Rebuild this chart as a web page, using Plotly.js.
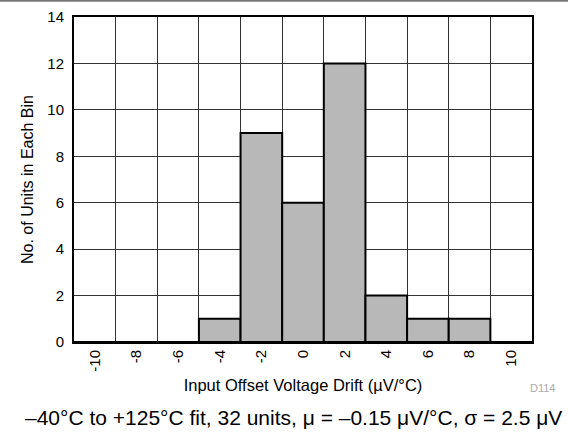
<!DOCTYPE html>
<html>
<head>
<meta charset="utf-8">
<script src="https://cdn.plot.ly/plotly-3.0.1.min.js"></script>
<style>html,body{margin:0;padding:0;background:#fff;}#chart{width:568px;height:432px;}</style>
</head>
<body>
<div id="chart"></div>
<script>
const binLabels = ["-10","-8","-6","-4","-2","0","2","4","6","8","10"];
const unitCounts = [0,0,0,1,9,6,12,2,1,1,0];
const xTitle = "Input Offset Voltage Drift (\u00b5V/\u00b0C)";
const yTitle = "No. of Units in Each Bin";
const subtitle = "\u201340\u00b0C to +125\u00b0C fit, 32 units, \u03bc = \u20130.15 \u03bcV/\u00b0C, \u03c3 = 2.5 \u03bcV";
const figId = "D114";

const font = "Arial, 'Liberation Sans', Helvetica, sans-serif";
const trace = {
  type: "bar",
  x: binLabels,
  y: unitCounts,
  marker: {color: "#b8b8b8", line: {color: "#000", width: 2}},
  hoverinfo: "none"
};
const layout = {
  width: 568, height: 432,
  margin: {l: 74, r: 36, t: 17, b: 90},
  paper_bgcolor: "#fff", plot_bgcolor: "#fff",
  showlegend: false,
  bargap: 0,
  font: {family: font, color: "#000"},
  xaxis: {
    type: "category",
    categoryorder: "array", categoryarray: binLabels,
    tickson: "boundaries",
    tickangle: -90,
    ticks: "outside", ticklen: 8, tickcolor: "rgba(0,0,0,0)",
    tickfont: {size: 15, family: font, color: "#000"},
    showgrid: true, gridcolor: "#333", gridwidth: 1,
    showline: true, linecolor: "#000", linewidth: 2, mirror: true,
    zeroline: false,
    automargin: false,
    title: {text: xTitle, font: {size: 16.5, family: font, color: "#000"}, standoff: 9}
  },
  yaxis: {
    range: [0, 14], dtick: 2, tick0: 0,
    ticks: "outside", ticklen: 5, tickcolor: "rgba(0,0,0,0)",
    tickfont: {size: 15, family: font, color: "#000"},
    showgrid: true, gridcolor: "#333", gridwidth: 1,
    showline: true, linecolor: "#000", linewidth: 2, mirror: true,
    zeroline: false,
    automargin: false,
    title: {text: yTitle, font: {size: 16, family: font, color: "#000"}, standoff: 10}
  },
  shapes: [
    {type: "line", xref: "paper", yref: "paper", x0: -0.2, x1: 1.2, y0: 1.05, y1: 1.05, line: {color: "#777", width: 2}, layer: "above"}
  ],
  annotations: [
    {text: subtitle, xref: "paper", yref: "paper", x: 0.48, y: -0.232, xanchor: "center", yanchor: "middle", showarrow: false, font: {size: 21, family: font, color: "#000"}},
    {text: figId, xref: "paper", yref: "paper", x: 1.022, y: -0.14, xanchor: "center", yanchor: "middle", showarrow: false, font: {size: 11, family: font, color: "#aaa"}}
  ]
};
Plotly.newPlot("chart", [trace], layout, {displayModeBar: false, staticPlot: true});
</script>
</body>
</html>
